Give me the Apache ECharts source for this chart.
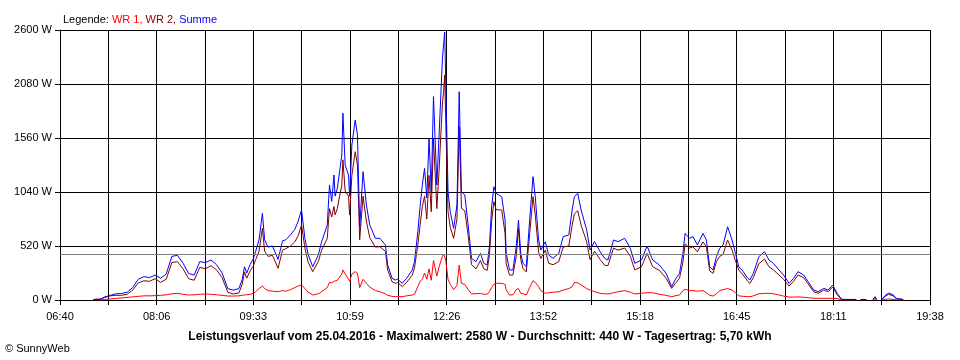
<!DOCTYPE html>
<html>
<head>
<meta charset="utf-8">
<script src="https://cdn.jsdelivr.net/npm/echarts@6/dist/echarts.min.js"></script>
<style>html,body{margin:0;padding:0;background:#fff}#c{width:960px;height:360px}</style>
</head>
<body>
<div id="c"></div>
<script>
const tickLabels = ['06:40','08:06','09:33','10:59','12:26','13:52','15:18','16:45','18:11','19:38'];
const yTicks = [0, 520, 1040, 1560, 2080, 2600];
const average = 440;
const times = ['07:10','07:16','07:20','07:25','07:30','07:35','07:40','07:45','07:50','07:55','08:00','08:05','08:10','08:15','08:20','08:25','08:30','08:35','08:40','08:45','08:50','08:55','09:00','09:05','09:10','09:15','09:20','09:23','09:25','09:27','09:30','09:33','09:35','09:38','09:41','09:43','09:46','09:50','09:55','09:59','10:02','10:06','10:10','10:13','10:16','10:19','10:22','10:26','10:31','10:34','10:39','10:41','10:43','10:45','10:46','10:48','10:50','10:52','10:53','10:55','10:58','10:59','11:01','11:04','11:06','11:08','11:11','11:14','11:17','11:22','11:26','11:31','11:33','11:37','11:40','11:42','11:46','11:50','11:55','11:57','12:00','12:02','12:04','12:06','12:08','12:10','12:12','12:14','12:17','12:19','12:22','12:23','12:24','12:25','12:27','12:29','12:32','12:35','12:37','12:39','12:42','12:45','12:48','12:52','12:56','12:59','13:02','13:04','13:06','13:08','13:10','13:15','13:18','13:19','13:22','13:25','13:28','13:30','13:32','13:34','13:37','13:40','13:43','13:45','13:48','13:50','13:54','13:57','14:01','14:06','14:10','14:15','14:18','14:20','14:23','14:26','14:31','14:34','14:38','14:43','14:47','14:50','14:55','14:59','15:05','15:10','15:14','15:20','15:25','15:30','15:36','15:42','15:47','15:50','15:54','15:57','15:59','16:03','16:06','16:10','16:15','16:18','16:21','16:24','16:27','16:30','16:33','16:37','16:41','16:44','16:47','16:51','16:55','16:57','17:00','17:05','17:10','17:14','17:18','17:23','17:27','17:32','17:36','17:40','17:45','17:49','17:54','17:58','18:03','18:07','18:11','18:15','18:19','18:32','18:34','18:36','18:41','18:43','18:47','18:49','18:50','18:52','18:55','18:58','19:01','19:05','19:08','19:14'];
const summe = [5,8,30,45,60,62,75,120,200,225,215,240,210,250,420,430,355,255,240,370,360,385,340,260,110,95,110,200,320,260,340,400,470,580,835,580,510,520,390,570,580,626,680,760,867,594,433,321,433,562,722,1107,950,1204,1000,1075,1236,1396,1798,1300,1204,1000,1493,1733,1589,700,1236,915,722,594,594,530,337,209,193,200,161,209,289,369,658,900,1107,1268,982,1557,1043,1958,1107,1589,2328,2455,2580,2070,1043,850,690,915,2006,1043,1011,722,401,369,449,353,337,513,899,1091,1027,995,770,450,289,289,513,770,450,353,321,770,1188,995,578,481,562,433,401,449,610,626,867,995,1027,867,674,481,562,465,401,385,578,562,594,498,353,385,520,385,337,257,128,193,257,449,642,594,610,530,642,578,321,289,417,498,530,706,578,449,321,273,209,193,257,417,465,385,353,289,241,161,209,273,241,177,96,80,112,96,144,64,6,5,null,5,5,null,5,32,5,null,5,45,67,50,15,5];
const wr2 = [5,8,25,40,45,45,55,95,165,185,180,205,170,200,360,370,300,205,190,315,300,330,290,215,75,58,68,155,270,210,280,330,390,470,690,470,420,430,305,480,495,520,560,620,722,500,360,273,370,480,594,880,800,900,820,880,1000,1100,1350,1050,1000,818,1200,1428,1300,580,1000,760,600,510,513,470,290,175,160,168,130,170,240,310,530,720,900,1000,780,1200,850,1550,880,1250,1900,2000,2167,1700,850,700,594,780,1670,883,860,620,340,300,380,300,285,430,760,947,870,867,640,350,240,240,420,690,390,305,270,640,995,820,460,400,480,353,340,370,510,520,720,830,860,720,560,390,470,390,335,330,500,480,500,420,290,320,449,320,285,210,112,155,210,360,540,500,513,465,560,513,280,257,369,420,440,578,481,380,289,240,180,160,215,350,395,320,290,240,200,135,180,241,215,155,80,64,96,80,125,50,5,5,null,5,5,null,5,28,5,null,5,35,55,40,12,5];
const wr1 = [0,0,5,10,15,20,25,30,35,40,40,42,45,50,60,65,55,48,50,55,58,55,50,45,38,38,40,45,50,50,55,65,80,110,135,110,90,85,80,90,85,100,120,135,145,110,75,48,60,80,120,170,165,180,175,190,220,250,290,250,200,180,250,273,260,120,200,160,125,90,80,60,45,35,32,32,32,40,48,55,130,180,200,260,200,300,190,380,230,320,420,440,413,380,200,150,100,140,337,160,150,100,60,60,64,55,55,80,120,150,161,161,150,100,48,50,100,110,64,60,48,120,186,170,128,90,64,70,75,80,96,110,128,170,165,145,110,96,80,64,60,58,70,80,90,75,58,65,70,70,55,45,32,40,48,90,103,90,90,85,90,70,45,38,60,90,100,110,95,70,40,35,32,32,40,60,64,64,60,48,38,28,28,30,26,22,16,16,16,16,16,14,0,0,null,0,0,null,0,4,0,null,0,5,10,5,2,0];

const START = 6 * 60 + 40, END = 19 * 60 + 38;
const STEP = (END - START) / 18;
function toMin(s) { const p = s.split(':'); return (+p[0]) * 60 + (+p[1]) - START; }
function pts(arr) { return times.map((t, i) => [toMin(t), arr[i]]); }

const chart = echarts.init(document.getElementById('c'), null, { renderer: 'canvas' });
const FONT = 'Liberation Sans, Arial, sans-serif';
chart.setOption({
  animation: false,
  backgroundColor: '#ffffff',
  grid: { left: 60, right: 30, top: 30, bottom: 60 },
  xAxis: {
    type: 'value', min: 0, max: END - START, interval: STEP,
    axisLine: { show: true, lineStyle: { color: '#000', width: 1 } },
    axisTick: { show: true, length: 5, lineStyle: { color: '#000' } },
    splitLine: { show: true, lineStyle: { color: '#000', width: 1 } },
    axisLabel: {
      color: '#000', fontFamily: FONT, fontSize: 11, margin: 11, showMaxLabel: true, showMinLabel: true,
      formatter: function (v) {
        const k = Math.round(v / STEP);
        return k % 2 === 0 ? tickLabels[k / 2] : '';
      }
    }
  },
  yAxis: {
    type: 'value', min: yTicks[0], max: yTicks[yTicks.length - 1], interval: yTicks[1] - yTicks[0],
    axisLine: { show: true, lineStyle: { color: '#000', width: 1 } },
    axisTick: { show: true, length: 5, lineStyle: { color: '#000' } },
    splitLine: { show: true, lineStyle: { color: '#000', width: 1 } },
    axisLabel: { color: '#000', fontFamily: FONT, fontSize: 11, margin: 8, formatter: function (v) { return v + ' W'; } }
  },
  title: {
    left: 58, top: 9,
    text: '{k|Legende: }{a|WR 1, }{b|WR 2, }{c|Summe}',
    textStyle: {
      fontWeight: 'normal',
      rich: {
        k: { color: '#000', fontFamily: FONT, fontSize: 11, fontWeight: 'normal' },
        a: { color: '#ff0000', fontFamily: FONT, fontSize: 11, fontWeight: 'normal' },
        b: { color: '#800000', fontFamily: FONT, fontSize: 11, fontWeight: 'normal' },
        c: { color: '#0000ff', fontFamily: FONT, fontSize: 11, fontWeight: 'normal' }
      }
    }
  },
  graphic: [
    { type: 'text', left: 'center', top: 331, style: { text: 'Leistungsverlauf vom 25.04.2016 - Maximalwert: 2580 W - Durchschnitt: 440 W - Tagesertrag: 5,70 kWh', fill: '#000', font: 'bold 12px ' + FONT } },
    { type: 'text', left: 5, top: 343, style: { text: '© SunnyWeb', fill: '#000', font: '11px ' + FONT } }
  ],
  series: [
    {
      name: 'WR 1', type: 'line', data: pts(wr1), showSymbol: false, connectNulls: false,
      lineStyle: { color: '#ff0000', width: 1 }, itemStyle: { color: '#ff0000' },
      markLine: { silent: true, symbol: 'none', label: { show: false }, lineStyle: { color: '#808080', type: 'solid', width: 1 }, data: [{ yAxis: average }] }
    },
    { name: 'WR 2', type: 'line', data: pts(wr2), showSymbol: false, connectNulls: false, lineStyle: { color: '#800000', width: 1 }, itemStyle: { color: '#800000' } },
    { name: 'Summe', type: 'line', data: pts(summe), showSymbol: false, connectNulls: false, lineStyle: { color: '#0000ff', width: 1 }, itemStyle: { color: '#0000ff' } }
  ]
});
</script>
</body>
</html>
